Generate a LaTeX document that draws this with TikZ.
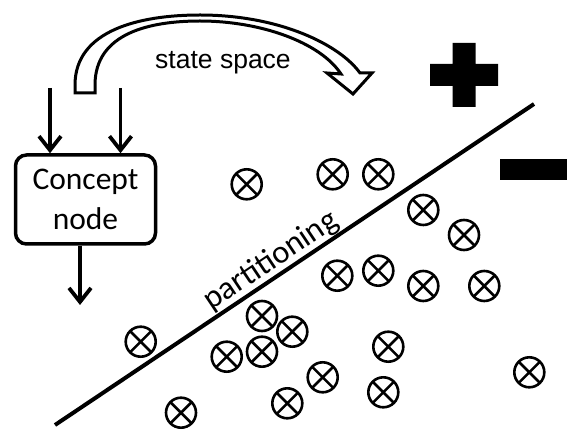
\documentclass[tikz,border=0pt]{standalone}
\usepackage{fontspec}
\setmainfont{Carlito}
\newfontfamily\arialfont{Liberation Sans}
\usetikzlibrary{arrows.meta}
\tikzset{
  px/.style={x=1pt,y=-1pt},
  xc/.style={circle,draw,line width=2.6pt,minimum size=30pt,inner sep=0pt,
    path picture={\draw[line width=2.6pt] (path picture bounding box.north west) -- (path picture bounding box.south east)
      (path picture bounding box.north east) -- (path picture bounding box.south west);}},
  arr/.style={line width=3.8pt,-{Straight Barb[length=14pt,width=22pt,line width=3.8pt]}},
  conceptbox/.style={draw,line width=3.5pt,rounded corners=11pt,minimum width=140pt,minimum height=89pt,
    align=center,font=\fontsize{31.5}{40}\selectfont,inner sep=0pt},
  hollowarrow/.style={line width=3pt,line join=miter,fill=white},
}
\begin{document}
\begin{tikzpicture}[px]
\useasboundingbox[fill=white] (0,0) rectangle (567,443);
% curved hollow arrow
\draw[hollowarrow] (75,93) -- (75,85) .. controls (75,30) and (140,15) .. (200,15)
  .. controls (280,15) and (340,45) .. (360,73) -- (372,73) -- (353,94) -- (327,73) -- (341,74)
  .. controls (320,42) and (260,21) .. (200,21) .. controls (150,21) and (95,33) .. (95,85) -- (95,93) -- cycle;
\node[font=\arialfont\fontsize{26.5}{30}\selectfont] (ss) at (223,63) {state space};
% concept node
\node[conceptbox] (cn) at (85.5,199.5) {Concept\\node};
\coordinate (in1) at (50,88);
\coordinate (in2) at (120.5,88);
\coordinate (out) at (80,305);
\draw[arr] (in1) -- (in1 |- cn.north);
\draw[arr] (in2) -- (in2 |- cn.north);
\draw[arr] (cn.south -| out) -- (out);
% plus and minus
\fill (452.5,43) rectangle (475.5,107) (430,64) rectangle (498,86);
\fill (500,159) rectangle (567,180);
% partition line
\coordinate (p1) at (55,425);
\coordinate (p2) at (534,104);
\draw[line width=4pt] (p1) -- (p2);
\node[rotate=33.8,font=\fontsize{32.5}{36}\selectfont] (pt) at (271,261) {partitioning};
% circles
\foreach \n/\x/\y in {1/246.7/184.3,2/332.7/174.3,3/378.3/174.3,4/423.3/210,5/464/235,
  6/337.3/275.7,7/378.3/270.7,8/423.3/286,9/484.3/286,10/140.7/341.7,11/262/316,
  12/292.3/331.7,13/226.7/356.7,14/262/351.7,15/388.3/346.7,16/529.3/372.3,
  17/322.7/377.3,18/287.3/403.3,19/383.3/392.3,20/181/412.7}
  \node[xc] (c\n) at (\x,\y) {};
\end{tikzpicture}
\end{document}
